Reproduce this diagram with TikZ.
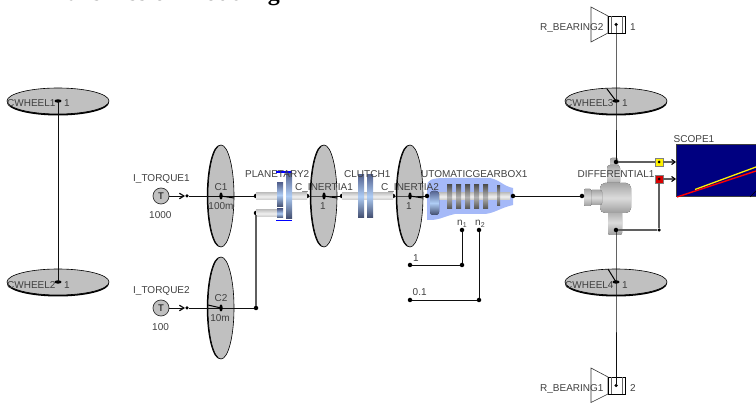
\documentclass[tikz,border=0pt]{standalone}
\usepackage{fontspec}
\setmainfont{Liberation Sans}
\newfontfamily\titlefont{Liberation Serif}
\usetikzlibrary{arrows.meta,calc,shapes.geometric}
\definecolor{discgray}{RGB}{192,192,192}
\definecolor{wire}{RGB}{15,15,15}
\definecolor{greywire}{RGB}{95,95,95}
\definecolor{gbblue}{RGB}{165,185,248}
\definecolor{plateA}{RGB}{85,100,145}
\definecolor{plateB}{RGB}{175,205,245}
\tikzset{
 lbl/.style={font=\fontsize{10}{10}\selectfont,text=black!75,inner sep=0pt},
 wirec/.style={draw=wire,line width=0.85pt},
 gwire/.style={draw=greywire,line width=1.1pt},
 dot/.style={circle,fill=black,inner sep=0pt,minimum size=4.5pt},
 shaft/.style={top color=black!22,bottom color=black!22,middle color=black!6,draw=none},
 plate/.style={top color=plateA,bottom color=plateA!75!black,middle color=plateB,draw=none},
 gear/.style={top color=black!68,bottom color=black!68,middle color=black!30,draw=none},
 body/.style={top color=black!35,bottom color=black!38,middle color=black!14,draw=none},
 sig/.style={gwire,-{Straight Barb[length=3.5pt,width=5pt,color=black]}},
 torquetip/.style={wirec,-{Straight Barb[length=4.5pt,width=5.5pt,line width=1.2pt]}},
}
\newcommand{\hwheel}[1]{%
 \fill[black] ($(#1)+(0,1.5)$) ellipse [x radius=51,y radius=13];
 \filldraw[fill=discgray,draw=black,line width=0.6pt] (#1) ellipse [x radius=51,y radius=13];
}
\newcommand{\vdisc}[1]{%
 \fill[black] ($(#1)+(-1.2,0)$) ellipse [x radius=13,y radius=51];
 \filldraw[fill=discgray,draw=black,line width=0.6pt] (#1) ellipse [x radius=13,y radius=51];
}
\begin{document}
\begin{tikzpicture}[x=1pt,y=-1pt]
\useasboundingbox (0,0) rectangle (756,403);
\begin{scope}
\clip (0,0) rectangle (756,403);
\node[anchor=base west,inner sep=0pt,font=\titlefont\bfseries\fontsize{24}{24}\selectfont] (title) at (42,0.6) {Transmission modeling};
\end{scope}

% named points
\foreach \n/\x/\y in {w1/58/101,w2/58/282,w3/616/101,w4/616/282,c1/221/196,c2/221/308,ci1/324/196,ci2/410/196}
  \coordinate (\n) at (\x,\y);
\coordinate (w3e) at (607,89);
\coordinate (w4e) at (608,269);
\coordinate (c1e) at (234,198);
\coordinate (c2e) at (208,305);
\coordinate (ci1e) at (337,198);
\coordinate (ci2e) at (423,198);

% gearbox blob
\fill[gbblue] (427,186) .. controls (427,180) and (432,178) .. (445,178) -- (490,178) .. controls (500,180) and (503,186) .. (513,188)
  -- (513,205) .. controls (500,208) and (495,213) .. (485,214) -- (455,214) .. controls (445,216) and (440,220) .. (430,220) -- (427,220) -- cycle;
\fill[shaft] (438,193) rectangle (510,200);
\fill[plate,rounded corners=3pt] (430,191) rectangle (439,215);
\foreach \x in {447,456,465,474,483} \fill[gear] (\x,185) rectangle ++(5,24);
\fill[gear] (497,186) rectangle ++(3,20);

% differential body
\fill[body,rounded corners=2pt] (610,158) rectangle (618,178);
\fill[body,rounded corners=3pt] (607,165) rectangle (620,185);
\fill[body,rounded corners=2pt] (608,210) rectangle (622,235);
\fill[body,rounded corners=5pt] (600,183) rectangle (631,213);
\fill[body,rounded corners=2pt] (590,190) rectangle (602,205);
\fill[body,rounded corners=1pt] (584,189) rectangle (591,206);

% scope
\fill[blue!50!black] (676.5,145) rectangle (757,197);
\draw[black!75,line width=1pt] (757,145) -- (676.5,145) -- (676.5,197) -- (757,197);
\draw[yellow,line width=1.3pt] (695,189.5) -- (756,167);
\draw[red,line width=1.4pt] (677,197) -- (756,171);
\draw[black,line width=.7pt] (750,197) -- (756,191);

% wheels
\hwheel{w1}\hwheel{w2}\hwheel{w3}\hwheel{w4}
\vdisc{c1}\vdisc{c2}\vdisc{ci1}\vdisc{ci2}

% planetary
\node[dot] (pi1) at (256,196) {};
\node[dot] (pi2) at (256,213) {};
\node[dot] (po) at (307,196) {};
\fill[shaft] (256,193) rectangle (277,200);
\fill[shaft] (256,210) rectangle (277,217);
\fill[shaft] (292,193) rectangle (307,200);
\fill[plate] (277,183) rectangle (283,207);
\fill[plate] (277,209) rectangle (283,218);
\fill[plate] (286,173) rectangle (292,219);
\draw[blue,line width=1.3pt] (276,172) -- (292,172);
\draw[blue,line width=1.3pt] (276,220.5) -- (292,220.5);

% clutch
\node[dot] (ci) at (342,196) {};
\node[dot] (co) at (393,196) {};
\fill[shaft] (342,193) rectangle (393,200);
\fill[plate] (358,175) rectangle (364,218);
\fill[plate] (367,175) rectangle (373,218);

% torques
\foreach \n/\y in {t1/196,t2/308}{
 \node[circle,draw=black!80,fill=discgray,line width=.7pt,minimum size=16pt,inner sep=0pt,font=\fontsize{9.5}{10}\selectfont] (\n) at (161,\y) {T};
}
\node[dot,minimum size=3.5pt] (t1d) at (187,196) {};
\node[dot,minimum size=3.5pt] (t2d) at (187,308) {};

% gearbox ports and signals
\node[dot] (gi) at (427,196) {};
\node[dot] (go) at (513,196) {};
\node[dot] (n1) at (462,230) {};
\node[dot] (n2) at (479,230) {};
\node[dot] (n1c) at (462,265) {};
\node[dot] (n2c) at (479,300) {};
\node[dot] (s1) at (410,265) {};
\node[dot] (s2) at (410,300) {};
\draw[wirec] (n1) -- (n1c) -- (s1);
\draw[wirec] (n2) -- (n2c) -- (s2);

% torque connections
\draw[torquetip] (t1) -- (t1d);
\draw[torquetip] (t2) -- (t2d);
\node[dot] (j2) at (256,308) {};
\draw[wirec] (t1d) -- (pi1);
\draw[wirec] (t2d) -- (j2);
\draw[gwire] (pi2) -- (j2);
\draw[wirec] (po) -- (ci1) -- (ci);
\draw[wirec] (co) -- (ci2) -- (gi);
\foreach \a/\b in {c1/c1e,ci1/ci1e,ci2/ci2e,c2/c2e,w3/w3e,w4/w4e}
  \draw[black,line width=1pt] (\a) -- (\b);
\foreach \h in {c1,c2,ci1,ci2}
  \fill[black] (\h) ellipse [x radius=1.7,y radius=3.5];
\foreach \h in {w1,w2,w3,w4}
  \fill[black] (\h) ellipse [x radius=3.5,y radius=1.7];

% differential ports
\node[dot] (da) at (582,196) {};
\node[dot] (dt) at (616,162) {};
\node[dot] (db) at (616,230) {};
\draw[wirec] (go) -- (da);

% bearings
\foreach \n/\y/\t/\b in {b2/24.5/7/42,b1/385.5/368/402.5}{
 \draw[black!80,line width=.6pt] (591,\t) -- (608,\y-8.5) -- (608,\y+8.5) -- (591,\b) -- cycle;
 \draw[black,line width=.7pt] (608,\y-8.5) rectangle (625,\y+8.5);
 \draw[black!60,line width=.6pt] (611,\y-8.5) -- (611,\y+8.5) (622,\y-8.5) -- (622,\y+8.5);
 \node[dot,minimum size=3.5pt] (\n) at (616,\y) {};
}
\draw[wirec] (b2) -- (w3) -- (dt);
\draw[wirec] (db) -- (w4) -- (b1);
\draw[wirec] (w1) -- (w2);

% signals to scope
\node[draw=black!50,fill=yellow,minimum size=8pt,inner sep=0pt] (ys) at (659,162) {};
\node[draw=black!50,fill=red!85!black,minimum size=8pt,inner sep=0pt] (rs) at (659,179) {};
\node[dot,minimum size=3pt] (ysd) at (659,162) {};
\node[dot,minimum size=3pt] (rsd) at (659,179) {};
\node[dot,minimum size=3.5pt] (j3) at (659,230) {};
\coordinate (sc1) at (676,162);
\coordinate (sc2) at (676,179);
\draw[gwire] (dt) -- (ys);
\draw[gwire] (db) -- (j3) -- (rs);
\draw[sig] (ys) -- (sc1);
\draw[sig] (rs) -- (sc2);

% labels
\foreach \n/\x/\y/\t in {
 l1/7/107/CWHEEL1,l2/7/288.5/CWHEEL2,l3/565/107/CWHEEL3,l4/565/288.5/CWHEEL4,
 l5/133/182/I\_TORQUE1,l6/133/294/I\_TORQUE2,l7/245/178/PLANETARY2,l8/295/190.5/C\_INERTIA1,
 l9/344/178/CLUTCH1,l10/381/190.5/C\_INERTIA2,l11/421/178/UTOMATICGEARBOX1,l12/577.5/178/DIFFERENTIAL1,
 l13/673.5/143/SCOPE1,l14/540/30.5/R\_BEARING2,l15/540/392/R\_BEARING1,
 l16/64/107/1,l17/622/107/1,l18/64/288.5/1,l19/622/288.5/1,
 l20/149/219/1000,l21/152/331/100,l22/630/30.5/1,l23/630/392/2,
 l24/413/262/1,l25/412.5/296/0.1}
 \node[lbl,anchor=base west] (\n) at (\x,\y) {\t};
\foreach \n/\x/\y/\t in {m1/221/191/C1,m2/221/210/100m,m3/221/302/C2,m4/220/322/10m,m5/323/210/1,m6/409/210/1}
 \node[lbl,anchor=base] (\n) at (\x,\y) {\t};
\node[lbl,anchor=base west] (n1l) at (457,226) {n\textsubscript{1}};
\node[lbl,anchor=base west] (n2l) at (475,226) {n\textsubscript{2}};
\end{tikzpicture}
\end{document}
